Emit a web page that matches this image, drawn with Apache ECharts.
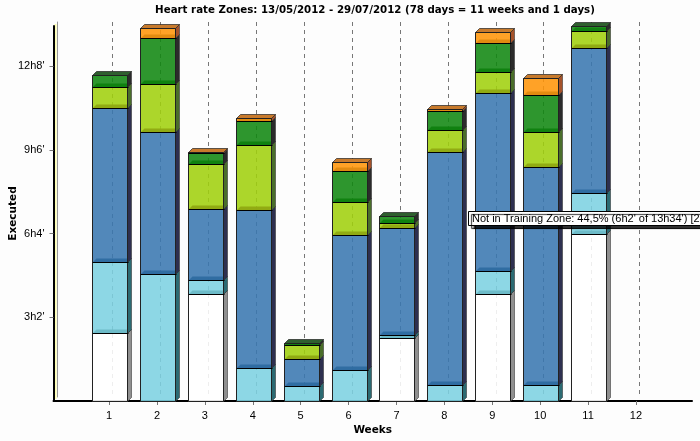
<!DOCTYPE html>
<html>
<head>
<meta charset="utf-8">
<style>html,body{margin:0;padding:0;background:#fdfdfd}#main{width:700px;height:441px}</style>
<script src="https://cdn.jsdelivr.net/npm/echarts@6/dist/echarts.min.js"></script>
</head>
<body>
<div id="main"></div>
<script>
// minutes per zone, one value per week
const weeks = [1, 2, 3, 4, 5, 6, 7, 8, 9, 10, 11, 12];
const notInZone = [148, 0, 233, 0, 0, 0, 137, 0, 233, 0, 362, 0];
const zone1 = [154, 276, 30, 72, 33, 67, 7, 35, 50, 35, 91, 0];
const zone2 = [335, 309, 154, 343, 59, 293, 233, 507, 387, 474, 315, 0];
const zone3 = [46, 104, 98, 141, 30, 72, 9, 46, 46, 76, 37, 0];
const zone4 = [26, 100, 24, 52, 4, 67, 17, 43, 61, 80, 9, 0];
const zone5 = [0, 22, 2, 7, 0, 20, 0, 4, 26, 37, 0, 0];
const yTicks = [182, 364, 546, 728];

const zones = [notInZone, zone1, zone2, zone3, zone4, zone5];
const fronts = ['#ffffff', '#7dd1e1', '#3a77b1', '#a1d00e', '#118811', '#ff9509'];
const sides = ['#8f8f8f', '#2b6a72', '#2d2f4f', '#4a6e2a', '#2b2b2b', '#a5522a'];
const bands = ['#ffffff', '#6cb9c6', '#2e6ca0', '#8fa912', '#0f7f0f', '#e08a10'];
const tops = ['#c8c8c8', '#5aa7b4', '#2c5f8c', '#6e8a2a', '#2f5f2f', '#c87a2c'];

const barData = [];
weeks.forEach(function (week, i) {
  let start = 0;
  let last = -1;
  zones.forEach(function (z, k) { if (z[i] > 0) last = k; });
  let first = true;
  zones.forEach(function (z, k) {
    if (z[i] > 0) {
      barData.push([week, start, start + z[i], k, k === last ? 1 : 0, first ? 1 : 0]);
      start += z[i];
      first = false;
    }
  });
});

function renderBar(params, api) {
  const a = api.coord([api.value(0), api.value(1)]);
  const b = api.coord([api.value(0), api.value(2)]);
  const k = api.value(3);
  const d = 4;
  const xl = Math.round(a[0] - 17) + 0.5;
  const xr = xl + 35;
  const yb = Math.round(a[1]) + 0.5;
  const yt = Math.round(b[1]) + 0.5;
  const line = { stroke: '#222', lineWidth: 1 };
  const children = [];
  children.push({
    type: 'polygon',
    shape: { points: [[xr, yt], [xr + d, yt - d], [xr + d, yb - d], [xr, yb]] },
    style: { fill: sides[k], stroke: '#222', lineWidth: 0.5 }
  });
  children.push({
    type: 'rect',
    shape: { x: xl, y: yt, width: xr - xl, height: yb - yt },
    style: { fill: fronts[k], opacity: 0.88 }
  });
  if (!api.value(5) && yb - yt > 1) {
    const h = Math.min(d, yb - yt);
    children.push({
      type: 'polygon',
      shape: { points: [[xl, yb], [xl + h, yb - h], [xr, yb - h], [xr, yb]] },
      style: { fill: bands[k], opacity: 0.95 }
    });
  }
  children.push({
    type: 'rect',
    shape: { x: xl, y: yt, width: xr - xl, height: yb - yt },
    style: { fill: 'none', stroke: '#222', lineWidth: 1 }
  });
  if (!api.value(5)) {
    children.push({
      type: 'line',
      shape: { x1: xl, y1: yb, x2: xr + 1, y2: yb },
      style: { stroke: '#000', lineWidth: 1 }
    });
  }
  if (api.value(4)) {
    children.push({
      type: 'polygon',
      shape: { points: [[xl, yt], [xl + d, yt - d], [xr + d, yt - d], [xr, yt]] },
      style: { fill: tops[k], stroke: '#222', lineWidth: 0.7 }
    });
    children.push({
      type: 'line',
      shape: { x1: xl, y1: yt, x2: xr, y2: yt },
      style: line
    });
  }
  return { type: 'group', children: children };
}

const gridBox = { left: 53.5, top: 26, width: 638.5, height: 375, outerBoundsMode: 'none' };
const xMin = -0.16;
const xMax = 13.17;
const yMax = 815;

const myChart = echarts.init(document.getElementById('main'), null, { renderer: 'canvas' });
const labelFont = { color: '#000', fontFamily: 'Liberation Sans', fontSize: 11 };
const nameFont = { fontFamily: 'DejaVu Sans', fontSize: 10.5, fontWeight: 'bold', color: '#000' };

myChart.setOption({
  animation: false,
  backgroundColor: '#fdfdfd',
  title: {
    text: 'Heart rate Zones: 13/05/2012 - 29/07/2012 (78 days = 11 weeks and 1 days)',
    left: 370,
    top: 0,
    textAlign: 'center',
    textStyle: { fontFamily: 'DejaVu Sans', fontSize: 10.25, fontWeight: 'bold', color: '#000' }
  },
  grid: [
    Object.assign({}, gridBox),
    { left: gridBox.left + 3.5, top: gridBox.top - 4, width: gridBox.width, height: gridBox.height, outerBoundsMode: 'none' }
  ],
  xAxis: [
    {
      type: 'value',
      gridIndex: 0,
      min: xMin,
      max: xMax,
      name: 'Weeks',
      nameLocation: 'middle',
      nameGap: 24,
      nameMoveOverlap: false,
      nameTextStyle: nameFont,
      axisLine: { onZero: false, lineStyle: { color: '#000', width: 2 } },
      axisTick: { customValues: weeks, length: 4, lineStyle: { color: '#777' } },
      axisLabel: Object.assign({ customValues: weeks, margin: 9 }, labelFont),
      splitLine: { show: false }
    },
    {
      type: 'value',
      gridIndex: 1,
      min: xMin,
      max: xMax,
      axisLine: { show: false, onZero: false },
      axisTick: { show: false, customValues: weeks },
      axisLabel: { show: false, customValues: weeks },
      splitLine: { show: true, lineStyle: { color: '#777', type: [4, 4], width: 1 } }
    }
  ],
  yAxis: [
    {
      type: 'value',
      gridIndex: 0,
      min: 0,
      max: yMax,
      name: 'Executed',
      nameLocation: 'middle',
      nameGap: 35,
      nameMoveOverlap: false,
      nameTextStyle: nameFont,
      axisLine: { show: true, onZero: false, lineStyle: { color: '#000', width: 2 } },
      axisTick: { show: true, customValues: yTicks, length: 4, lineStyle: { color: '#777' } },
      axisLabel: Object.assign({
        customValues: yTicks,
        margin: 9,
        formatter: function (v) { return Math.floor(v / 60) + 'h' + (v % 60) + "'"; }
      }, labelFont),
      splitLine: { show: false }
    },
    {
      type: 'value',
      gridIndex: 1,
      min: 0,
      max: yMax,
      axisLine: { show: true, onZero: false, lineStyle: { color: '#999', width: 1 } },
      axisTick: { show: false },
      axisLabel: { show: false },
      splitLine: { show: false }
    }
  ],
  series: [
    {
      type: 'custom',
      xAxisIndex: 0,
      yAxisIndex: 0,
      clip: false,
      data: barData,
      encode: { x: 0, y: [1, 2] },
      renderItem: renderBar,
      z: 5
    }
  ],
  graphic: [
    {
      type: 'rect',
      z: 0,
      shape: { x: 54.5, y: 24, width: 2, height: 375 },
      style: { fill: '#ffffb0' }
    },
    {
      type: 'rect',
      z: 100,
      shape: { x: 468.5, y: 211.5, width: 240, height: 14 },
      style: { fill: '#fff', stroke: '#000', lineWidth: 1, shadowColor: 'rgba(0,0,0,0.8)', shadowOffsetX: 3, shadowOffsetY: 3, shadowBlur: 1 }
    },
    {
      type: 'text',
      z: 101,
      x: 472,
      y: 213,
      style: { text: "Not in Training Zone: 44,5% (6h2' of 13h34') [22", fill: '#000', font: '11px "Liberation Sans"' }
    }
  ]
});
window.addEventListener('resize', myChart.resize);
</script>
</body>
</html>
